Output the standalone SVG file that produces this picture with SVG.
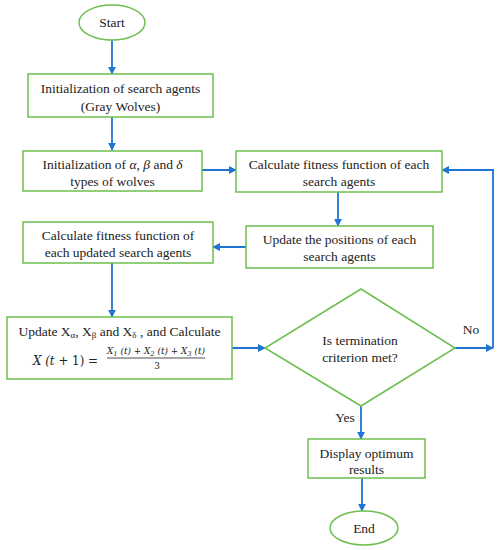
<svg xmlns="http://www.w3.org/2000/svg" width="500" height="550" viewBox="0 0 500 550">
<style>
.n{fill:#fff;stroke:#6cbf4f;stroke-width:1.5}
.t{font-family:"Liberation Serif","Times New Roman",Times,serif;font-size:13.5px;fill:#222;text-anchor:middle}
.m{font-family:"DejaVu Serif","Liberation Serif",serif;font-style:italic;fill:#222}
.c{fill:none;stroke:#1f74d4;stroke-width:1.8}
</style>
<defs>
<marker id="a" viewBox="0 0 10 10" refX="9" refY="5" markerWidth="4.5" markerHeight="4.5" orient="auto">
<path d="M0,0 L10,5 L0,10 z" fill="#1f74d4"/>
</marker>
</defs>
<rect width="500" height="550" fill="#fff"/>
<g id="connectors">
<line class="c" x1="112" y1="40" x2="112" y2="74" marker-end="url(#a)"/>
<line class="c" x1="112" y1="117" x2="112" y2="150" marker-end="url(#a)"/>
<line class="c" x1="202" y1="170" x2="236" y2="170" marker-end="url(#a)"/>
<line class="c" x1="338" y1="192" x2="338" y2="226" marker-end="url(#a)"/>
<line class="c" x1="246" y1="247" x2="213" y2="247" marker-end="url(#a)"/>
<line class="c" x1="112" y1="263" x2="112" y2="317" marker-end="url(#a)"/>
<line class="c" x1="232" y1="348" x2="265" y2="348" marker-end="url(#a)"/>
<line class="c" x1="455" y1="348" x2="493" y2="348" marker-end="url(#a)"/>
<polyline class="c" points="493,348 493,170 442,170" marker-end="url(#a)"/>
<line class="c" x1="361" y1="406" x2="361" y2="439" marker-end="url(#a)"/>
<line class="c" x1="362" y1="478" x2="362" y2="511" marker-end="url(#a)"/>
<text class="t" x="471" y="334">No</text>
<text class="t" x="345" y="422">Yes</text>
</g>
<g id="start">
<ellipse class="n" cx="112" cy="22.5" rx="33" ry="17.5"/>
<text class="t" x="112" y="27">Start</text>
</g>
<g id="init-agents">
<rect class="n" x="28" y="74" width="185" height="43"/>
<text class="t" x="120.5" y="93">Initialization of search agents</text>
<text class="t" x="120.5" y="111">(Gray Wolves)</text>
</g>
<g id="init-types">
<rect class="n" x="23" y="151" width="179" height="40"/>
<text class="t" x="112.5" y="169">Initialization of <tspan font-style="italic">α</tspan>, <tspan font-style="italic">β</tspan> and <tspan font-style="italic">δ</tspan></text>
<text class="t" x="112.5" y="186">types of wolves</text>
</g>
<g id="calc-fitness">
<rect class="n" x="236" y="151" width="206" height="41"/>
<text class="t" x="339" y="169">Calculate fitness function of each</text>
<text class="t" x="339" y="186">search agents</text>
</g>
<g id="update-positions">
<rect class="n" x="246" y="226" width="187" height="42"/>
<text class="t" x="339.5" y="244">Update the positions of each</text>
<text class="t" x="339.5" y="261">search agents</text>
</g>
<g id="calc-updated">
<rect class="n" x="23" y="222" width="190" height="41"/>
<text class="t" x="118" y="240">Calculate fitness function of</text>
<text class="t" x="118" y="257">each updated search agents</text>
</g>
<g id="update-x">
<rect class="n" x="7" y="317" width="225" height="62"/>
<text class="t" x="119.5" y="336">Update X<tspan font-size="9" dy="2">α</tspan><tspan dy="-2">, X</tspan><tspan font-size="9" dy="2">β</tspan><tspan dy="-2"> and X</tspan><tspan font-size="9" dy="2">δ</tspan><tspan dy="-2"> , and Calculate</tspan></text>
<text class="m" x="33" y="365" font-size="13" textLength="65" lengthAdjust="spacingAndGlyphs">X (t<tspan style="font-style:normal"> + 1) =</tspan></text>
<text class="m" x="107" y="354" font-size="8.5" textLength="98" lengthAdjust="spacingAndGlyphs">X<tspan font-size="6.5" dy="1.5">1</tspan><tspan dy="-1.5"> (t) + X</tspan><tspan font-size="6.5" dy="1.5">2</tspan><tspan dy="-1.5"> (t) + X</tspan><tspan font-size="6.5" dy="1.5">3</tspan><tspan dy="-1.5"> (t)</tspan></text>
<line x1="107" y1="358" x2="205" y2="358" stroke="#222" stroke-width="0.8"/>
<text class="m" x="157" y="369" font-size="9" style="font-style:normal" text-anchor="middle">3</text>
</g>
<g id="decision">
<polygon class="n" points="361,289 455,348 361,406 265,348"/>
<text class="t" x="360" y="345">Is termination</text>
<text class="t" x="360" y="362">criterion met?</text>
</g>
<g id="display">
<rect class="n" x="308" y="439" width="117" height="39"/>
<text class="t" x="366.5" y="458">Display optimum</text>
<text class="t" x="366.5" y="474">results</text>
</g>
<g id="end">
<ellipse class="n" cx="364" cy="528" rx="34" ry="17"/>
<text class="t" x="364" y="532.5">End</text>
</g>
</svg>
